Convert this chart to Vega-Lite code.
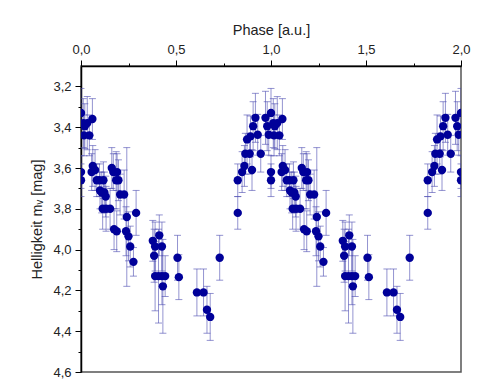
{
  "$schema": "https://vega.github.io/schema/vega-lite/v6.json",
  "width": 380,
  "height": 306,
  "autosize": "none",
  "padding": {"left": 81, "top": 66, "right": 33, "bottom": 15},
  "background": "#ffffff",
  "config": {
    "view": {"stroke": "#555555", "strokeWidth": 1.5},
    "font": "Liberation Sans"
  },
  "data": {"values": [
    {"phase":0.000,"mag":3.33,"err":0.12},{"phase":0.012,"mag":3.38,"err":0.12},{"phase":0.020,"mag":3.395,"err":0.11},
    {"phase":0.033,"mag":3.38,"err":0.13},{"phase":0.016,"mag":3.44,"err":0.10},{"phase":0.044,"mag":3.44,"err":0.10},
    {"phase":0.060,"mag":3.36,"err":0.10},{"phase":0.000,"mag":3.62,"err":0.08},{"phase":0.000,"mag":3.66,"err":0.08},
    {"phase":0.056,"mag":3.62,"err":0.09},{"phase":0.062,"mag":3.59,"err":0.10},{"phase":0.074,"mag":3.61,"err":0.10},
    {"phase":0.083,"mag":3.66,"err":0.08},{"phase":0.097,"mag":3.66,"err":0.08},{"phase":0.100,"mag":3.71,"err":0.09},
    {"phase":0.109,"mag":3.72,"err":0.10},{"phase":0.118,"mag":3.66,"err":0.09},{"phase":0.123,"mag":3.72,"err":0.10},
    {"phase":0.114,"mag":3.80,"err":0.10},{"phase":0.132,"mag":3.80,"err":0.11},{"phase":0.130,"mag":3.74,"err":0.10},
    {"phase":0.153,"mag":3.80,"err":0.10},{"phase":0.162,"mag":3.60,"err":0.10},{"phase":0.170,"mag":3.62,"err":0.09},
    {"phase":0.190,"mag":3.62,"err":0.09},{"phase":0.197,"mag":3.66,"err":0.10},{"phase":0.185,"mag":3.66,"err":0.14},
    {"phase":0.206,"mag":3.73,"err":0.10},{"phase":0.227,"mag":3.73,"err":0.12},{"phase":0.174,"mag":3.90,"err":0.10},
    {"phase":0.188,"mag":3.91,"err":0.10},{"phase":0.241,"mag":3.84,"err":0.34},{"phase":0.290,"mag":3.82,"err":0.11},
    {"phase":0.237,"mag":3.91,"err":0.12},{"phase":0.250,"mag":3.935,"err":0.12},{"phase":0.259,"mag":3.985,"err":0.10},
    {"phase":0.276,"mag":4.06,"err":0.07},{"phase":0.378,"mag":3.957,"err":0.10},{"phase":0.385,"mag":4.03,"err":0.13},
    {"phase":0.390,"mag":3.985,"err":0.12},{"phase":0.412,"mag":3.93,"err":0.10},{"phase":0.426,"mag":3.985,"err":0.12},
    {"phase":0.390,"mag":4.13,"err":0.17},{"phase":0.408,"mag":4.13,"err":0.23},{"phase":0.426,"mag":4.13,"err":0.14},
    {"phase":0.443,"mag":4.13,"err":0.10},{"phase":0.431,"mag":4.18,"err":0.23},{"phase":0.508,"mag":4.04,"err":0.11},
    {"phase":0.515,"mag":4.135,"err":0.11},{"phase":0.610,"mag":4.21,"err":0.115},{"phase":0.645,"mag":4.21,"err":0.115},
    {"phase":0.663,"mag":4.295,"err":0.115},{"phase":0.680,"mag":4.33,"err":0.115},{"phase":0.730,"mag":4.04,"err":0.11},
    {"phase":0.825,"mag":3.66,"err":0.08},{"phase":0.825,"mag":3.82,"err":0.08},{"phase":0.848,"mag":3.62,"err":0.10},
    {"phase":0.860,"mag":3.59,"err":0.10},{"phase":0.865,"mag":3.53,"err":0.10},{"phase":0.874,"mag":3.46,"err":0.12},
    {"phase":0.888,"mag":3.53,"err":0.10},{"phase":0.892,"mag":3.445,"err":0.10},{"phase":0.900,"mag":3.61,"err":0.10},
    {"phase":0.906,"mag":3.395,"err":0.12},{"phase":0.918,"mag":3.354,"err":0.12},{"phase":0.930,"mag":3.437,"err":0.10},
    {"phase":0.946,"mag":3.53,"err":0.09},{"phase":0.971,"mag":3.354,"err":0.13},{"phase":0.980,"mag":3.395,"err":0.12},
    {"phase":0.988,"mag":3.437,"err":0.10},

    {"phase":1.000,"mag":3.33,"err":0.12},{"phase":1.012,"mag":3.38,"err":0.12},{"phase":1.020,"mag":3.395,"err":0.11},
    {"phase":1.033,"mag":3.38,"err":0.13},{"phase":1.016,"mag":3.44,"err":0.10},{"phase":1.044,"mag":3.44,"err":0.10},
    {"phase":1.060,"mag":3.36,"err":0.10},{"phase":1.000,"mag":3.62,"err":0.08},{"phase":1.000,"mag":3.66,"err":0.08},
    {"phase":1.056,"mag":3.62,"err":0.09},{"phase":1.062,"mag":3.59,"err":0.10},{"phase":1.074,"mag":3.61,"err":0.10},
    {"phase":1.083,"mag":3.66,"err":0.08},{"phase":1.097,"mag":3.66,"err":0.08},{"phase":1.100,"mag":3.71,"err":0.09},
    {"phase":1.109,"mag":3.72,"err":0.10},{"phase":1.118,"mag":3.66,"err":0.09},{"phase":1.123,"mag":3.72,"err":0.10},
    {"phase":1.114,"mag":3.80,"err":0.10},{"phase":1.132,"mag":3.80,"err":0.11},{"phase":1.130,"mag":3.74,"err":0.10},
    {"phase":1.153,"mag":3.80,"err":0.10},{"phase":1.162,"mag":3.60,"err":0.10},{"phase":1.170,"mag":3.62,"err":0.09},
    {"phase":1.190,"mag":3.62,"err":0.09},{"phase":1.197,"mag":3.66,"err":0.10},{"phase":1.185,"mag":3.66,"err":0.14},
    {"phase":1.206,"mag":3.73,"err":0.10},{"phase":1.227,"mag":3.73,"err":0.12},{"phase":1.174,"mag":3.90,"err":0.10},
    {"phase":1.188,"mag":3.91,"err":0.10},{"phase":1.241,"mag":3.84,"err":0.34},{"phase":1.290,"mag":3.82,"err":0.11},
    {"phase":1.237,"mag":3.91,"err":0.12},{"phase":1.250,"mag":3.935,"err":0.12},{"phase":1.259,"mag":3.985,"err":0.10},
    {"phase":1.276,"mag":4.06,"err":0.07},{"phase":1.378,"mag":3.957,"err":0.10},{"phase":1.385,"mag":4.03,"err":0.13},
    {"phase":1.390,"mag":3.985,"err":0.12},{"phase":1.412,"mag":3.93,"err":0.10},{"phase":1.426,"mag":3.985,"err":0.12},
    {"phase":1.390,"mag":4.13,"err":0.17},{"phase":1.408,"mag":4.13,"err":0.23},{"phase":1.426,"mag":4.13,"err":0.14},
    {"phase":1.443,"mag":4.13,"err":0.10},{"phase":1.431,"mag":4.18,"err":0.23},{"phase":1.508,"mag":4.04,"err":0.11},
    {"phase":1.515,"mag":4.135,"err":0.11},{"phase":1.610,"mag":4.21,"err":0.115},{"phase":1.645,"mag":4.21,"err":0.115},
    {"phase":1.663,"mag":4.295,"err":0.115},{"phase":1.680,"mag":4.33,"err":0.115},{"phase":1.730,"mag":4.04,"err":0.11},
    {"phase":1.825,"mag":3.66,"err":0.08},{"phase":1.825,"mag":3.82,"err":0.08},{"phase":1.848,"mag":3.62,"err":0.10},
    {"phase":1.860,"mag":3.59,"err":0.10},{"phase":1.865,"mag":3.53,"err":0.10},{"phase":1.874,"mag":3.46,"err":0.12},
    {"phase":1.888,"mag":3.53,"err":0.10},{"phase":1.892,"mag":3.445,"err":0.10},{"phase":1.900,"mag":3.61,"err":0.10},
    {"phase":1.906,"mag":3.395,"err":0.12},{"phase":1.918,"mag":3.354,"err":0.12},{"phase":1.930,"mag":3.437,"err":0.10},
    {"phase":1.946,"mag":3.53,"err":0.09},{"phase":1.971,"mag":3.354,"err":0.13},{"phase":1.980,"mag":3.395,"err":0.12},
    {"phase":1.988,"mag":3.437,"err":0.10},
    {"phase":2.000,"mag":3.33,"err":0.12},{"phase":2.000,"mag":3.62,"err":0.08},{"phase":2.000,"mag":3.66,"err":0.08}
  ]},
  "encoding": {
    "x": {
      "field": "phase", "type": "quantitative",
      "scale": {"domain": [0, 2], "nice": false, "zero": false},
      "axis": {
        "orient": "top",
        "title": "Phase [a.u.]",
        "values": [0, 0.25, 0.5, 0.75, 1, 1.25, 1.5, 1.75, 2],
        "labelExpr": "abs(datum.value*2 - round(datum.value*2)) < 0.001 ? replace(format(datum.value, '.1f'), '.', ',') : ''",
        "tickSize": {"condition": {"test": "abs(datum.value*2 - round(datum.value*2)) < 0.001", "value": 6}, "value": 3},
        "tickColor": "#000000",
        "tickWidth": 1,
        "domainColor": "#000000",
        "domainWidth": 1.5,
        "labelFontSize": 13,
        "labelColor": "#222222",
        "labelPadding": 4,
        "labelFlush": false,
        "labelOverlap": false,
        "titleFontSize": 14.5,
        "titleFontWeight": "normal",
        "titleColor": "#222222",
        "titlePadding": 6,
        "grid": false
      }
    },
    "y": {
      "field": "mag", "type": "quantitative",
      "scale": {"domain": [3.1, 4.6], "reverse": true, "nice": false, "zero": false},
      "axis": {
        "title": "Helligkeit mᵥ [mag]",
        "values": [3.2, 3.3, 3.4, 3.5, 3.6, 3.7, 3.8, 3.9, 4.0, 4.1, 4.2, 4.3, 4.4, 4.5, 4.6],
        "labelExpr": "abs(datum.value*5 - round(datum.value*5)) < 0.001 ? replace(format(datum.value, '.1f'), '.', ',') : ''",
        "tickSize": {"condition": {"test": "abs(datum.value*5 - round(datum.value*5)) < 0.001", "value": 6}, "value": 3},
        "tickColor": "#000000",
        "tickWidth": 1,
        "domainColor": "#000000",
        "domainWidth": 1.5,
        "labelFontSize": 13,
        "labelColor": "#222222",
        "labelPadding": 4,
        "labelFlush": false,
        "labelOverlap": false,
        "titleFontSize": 14.5,
        "titleFontWeight": "normal",
        "titleColor": "#222222",
        "titlePadding": 8,
        "grid": false
      }
    }
  },
  "layer": [
    {
      "mark": {"type": "errorbar", "ticks": {"size": 7}, "color": "#4b4bb0", "opacity": 0.6, "thickness": 1, "clip": true},
      "encoding": {"yError": {"field": "err"}}
    },
    {
      "mark": {"type": "circle", "size": 70, "color": "#000099", "opacity": 1, "clip": true}
    }
  ]
}
